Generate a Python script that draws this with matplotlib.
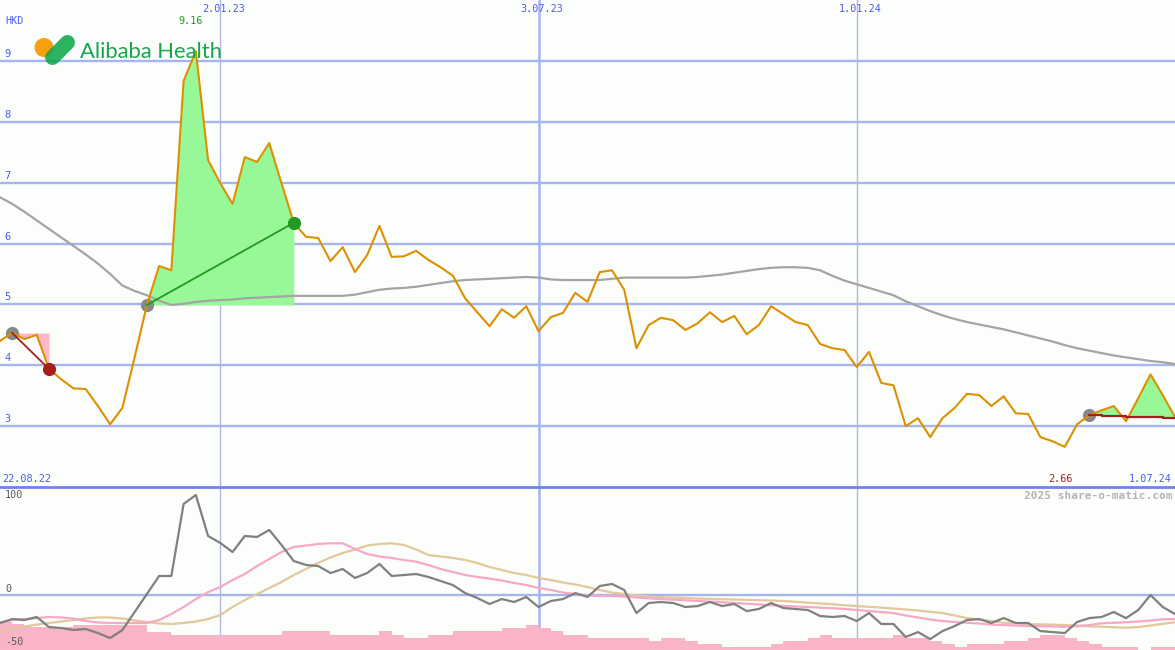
import numpy as np
import pandas as pd
import matplotlib
matplotlib.use('Agg')
import matplotlib.pyplot as plt
from matplotlib.lines import Line2D
from matplotlib.patches import Circle

# ---------------- data (weekly) ----------------
start_date = '2022-08-29'

price = [4.40, 4.53, 4.43, 4.50, 3.94, 3.77, 3.62, 3.61, 3.33, 3.03,
         3.30, 4.13, 4.99, 5.63, 5.56, 8.67, 9.16, 7.37, 6.99, 6.65,
         7.42, 7.34, 7.65, 6.99, 6.34, 6.11, 6.09, 5.71, 5.94, 5.53,
         5.81, 6.29, 5.78, 5.79, 5.88, 5.73, 5.61, 5.47, 5.10, 4.87,
         4.64, 4.92, 4.78, 4.97, 4.56, 4.79, 4.86, 5.19, 5.04, 5.53,
         5.56, 5.24, 4.28, 4.66, 4.78, 4.74, 4.58, 4.69, 4.87, 4.71,
         4.81, 4.51, 4.66, 4.97, 4.84, 4.71, 4.66, 4.35, 4.28, 4.25,
         3.97, 4.22, 3.71, 3.67, 3.00, 3.13, 2.82, 3.13, 3.30, 3.53,
         3.51, 3.33, 3.49, 3.21, 3.20, 2.82, 2.75, 2.66, 3.03, 3.18,
         3.26, 3.33, 3.08, 3.46, 3.85, 3.51, 3.15]

price_ma = [6.76, 6.65, 6.52, 6.38, 6.24, 6.10, 5.96, 5.82, 5.67, 5.50,
            5.31, 5.22, 5.15, 5.06, 4.99, 5.01, 5.04, 5.06, 5.07, 5.08,
            5.10, 5.11, 5.12, 5.13, 5.14, 5.14, 5.14, 5.14, 5.14, 5.16,
            5.20, 5.24, 5.26, 5.27, 5.29, 5.32, 5.35, 5.38, 5.40, 5.41,
            5.42, 5.43, 5.44, 5.45, 5.44, 5.41, 5.40, 5.40, 5.40, 5.40,
            5.42, 5.44, 5.44, 5.44, 5.44, 5.44, 5.44, 5.45, 5.47, 5.49,
            5.52, 5.55, 5.58, 5.60, 5.61, 5.61, 5.60, 5.56, 5.47, 5.39,
            5.33, 5.27, 5.21, 5.15, 5.05, 4.97, 4.89, 4.82, 4.76, 4.71,
            4.67, 4.63, 4.59, 4.54, 4.49, 4.44, 4.39, 4.33, 4.28, 4.24,
            4.20, 4.16, 4.13, 4.10, 4.07, 4.05, 4.02]

# trades: (entry week, exit week)
trades = [(1, 4), (12, 24)]
open_entry = 89
trail = [3.18, 3.16, 3.16, 3.15, 3.15, 3.15, 3.13, 3.13]  # weeks 89..96

momentum = [-28.9, -24.9, -25.9, -22.8, -33.0, -34.0, -36.0, -35.0, -39.1, -44.2,
            -36.0, -17.8, 0.5, 18.8, 18.8, 91.9, 101.0, 59.4, 52.3, 43.1,
            59.4, 58.4, 65.5, 50.3, 34.0, 30.0, 28.9, 21.8, 25.9, 16.8,
            21.8, 31.0, 18.8, 19.8, 20.8, 17.8, 13.7, 9.6, 1.5, -3.6,
            -9.6, -4.6, -7.6, -2.5, -12.7, -6.6, -4.6, 1.5, -2.5, 8.6,
            10.7, 4.6, -18.8, -8.6, -7.6, -8.6, -12.7, -11.7, -7.6, -11.7,
            -9.6, -16.8, -14.7, -8.6, -13.7, -14.7, -15.7, -21.8, -22.8, -21.8,
            -26.9, -18.8, -29.9, -29.9, -43.1, -38.1, -45.2, -37.1, -32.0, -25.9,
            -24.9, -28.9, -23.9, -28.9, -28.9, -37.1, -38.1, -39.1, -27.9, -23.9,
            -22.8, -17.8, -23.9, -15.7, -0.5, -12.7, -19.8]

mom_fast = [-28.9, -25.9, -24.9, -23.9, -22.8, -23.3, -24.4, -26.9, -28.4, -28.9,
            -28.9, -28.9, -28.9, -25.9, -19.8, -12.7, -4.6, 2.5, 7.6, 14.7,
            20.8, 28.9, 36.0, 43.1, 48.2, 49.7, 51.3, 52.0, 52.0, 46.2,
            41.1, 38.6, 37.1, 35.0, 33.3, 29.9, 25.9, 22.8, 19.8, 17.8,
            16.2, 14.2, 11.7, 9.6, 6.6, 4.6, 2.0, 0.5, -1.0, -1.5,
            -1.5, -2.2, -3.0, -3.9, -4.6, -5.2, -5.9, -6.6, -7.2, -7.8,
            -8.6, -9.3, -10.1, -10.9, -11.5, -12.2, -12.7, -13.3, -13.9, -14.6,
            -15.7, -16.8, -17.8, -18.8, -21.3, -23.3, -25.4, -26.9, -27.9, -28.6,
            -29.4, -30.5, -31.0, -31.5, -32.0, -32.2, -32.5, -32.7, -32.2, -31.0,
            -29.2, -28.7, -28.2, -27.4, -26.4, -25.1, -24.9]

mom_slow = [-37.8, -35.0, -32.5, -30.5, -28.9, -27.4, -25.9, -24.2, -23.3, -23.3,
            -24.4, -26.4, -27.9, -29.4, -29.9, -28.9, -27.4, -24.9, -20.8, -12.7,
            -5.6, 0.5, 6.6, 12.7, 19.8, 25.9, 32.0, 37.6, 42.1, 45.7,
            49.7, 51.3, 52.0, 50.3, 45.7, 40.1, 38.6, 37.1, 35.0, 32.0,
            27.9, 24.9, 21.8, 19.8, 16.8, 14.7, 12.2, 10.2, 7.6, 4.6,
            2.0, 0.5, -1.0, -2.2, -2.7, -3.1, -3.6, -4.1, -4.4, -4.8,
            -5.1, -5.4, -5.8, -6.1, -6.6, -7.4, -8.3, -9.1, -9.9, -10.9,
            -11.7, -12.5, -13.3, -14.2, -15.2, -16.2, -17.6, -18.8, -21.3, -23.9,
            -25.4, -26.9, -28.6, -29.2, -29.9, -30.3, -30.6, -31.0, -31.5, -32.2,
            -32.7, -33.2, -33.7, -33.0, -31.5, -29.7, -28.2]

hist = [-28.0, -30.0, -33.0, -33.0, -33.0, -33.0, -31.0, -31.0, -31.0, -31.0,
        -31.0, -31.0, -38.0, -38.0, -41.1, -41.1, -41.1, -41.1, -41.1, -41.1,
        -41.1, -41.1, -41.1, -37.0, -37.0, -37.0, -37.0, -41.1, -41.1, -41.1,
        -41.1, -37.0, -41.1, -43.9, -43.9, -41.1, -41.1, -37.0, -37.0, -37.0,
        -37.0, -33.7, -33.7, -31.0, -33.7, -37.0, -41.1, -41.1, -43.9, -43.9,
        -43.9, -43.9, -43.9, -46.9, -43.9, -43.9, -46.9, -50.3, -50.3, -53.0,
        -53.0, -53.0, -53.0, -50.3, -46.9, -46.9, -43.9, -41.1, -43.9, -43.9,
        -43.9, -43.9, -43.9, -41.1, -43.9, -43.9, -47.2, -50.3, -53.6, -50.3,
        -50.3, -50.3, -47.2, -47.2, -43.9, -41.1, -41.1, -43.9, -47.2, -50.3,
        -53.6, -53.6, -53.6, -56.3, -53.6, -53.6]

price_ticks = [3, 4, 5, 6, 7, 8, 9]
osc_ticks = [100, 0, -50]
date_lines = ['2023-01-02', '2023-07-03', '2024-01-01']
date_labels = ['2.01.23', '3.07.23', '1.01.24']
left_label = '22.08.22'
right_label = '1.07.24'

# ---------------- styling ----------------
W, H = 1175, 650
BG = '#fcfefc'
GRID = '#a6b4f0'
BLUE_TXT = '#4a5cf0'
ORANGE = '#dd9000'
MA_GRAY = '#a4a4a4'
GREEN_FILL = '#98f898'
PINK_FILL = '#ffb6c6'
DARK_RED = '#a81c1c'
GREEN_LINE = '#229922'
MONO = 'DejaVu Sans Mono'

dates = pd.date_range(start_date, periods=len(price), freq='7D')
price = np.array(price)

fig = plt.figure(figsize=(W / 100, H / 100), dpi=100, facecolor=BG)
split = 163 / H
ax = fig.add_axes([0, split, 1, 1 - split])
ax2 = fig.add_axes([0, 0, 1, split])
for a in (ax, ax2):
    a.set_facecolor(BG)
    a.set_axis_off()
    a.set_xlim(dates[0], dates[-1])

ax.set_ylim(2.0, 10.0)
ax2.set_ylim(-56.3, 109.1)

def px(x, y):
    return x / W, 1 - y / H

# grid lines
for v in price_ticks:
    ax.axhline(v, color=GRID, lw=1.7, zorder=1)
ax2.axhline(0, color=GRID, lw=1.7, zorder=1)
for d, lab in zip(date_lines, date_labels):
    t = pd.Timestamp(d)
    mid = lab.startswith('3.07')
    for a in (ax, ax2):
        a.axvline(t, color=GRID if mid else '#b0b6e2', lw=1.8 if mid else 1.0, zorder=1)
fig.add_artist(Line2D([0, 1], [split, split], transform=fig.transFigure,
                      color='#7282ea', lw=2.0, zorder=5))

# ---------------- price panel ----------------
ax.plot(dates, price_ma, color=MA_GRAY, lw=1.6, zorder=3)

for (i0, i1) in trades:
    base = price[i0]
    seg_d = dates[i0:i1 + 1]
    seg_p = price[i0:i1 + 1]
    ax.fill_between(seg_d, seg_p, base, where=seg_p >= base, interpolate=True,
                    color=GREEN_FILL, lw=0, zorder=2)
    ax.fill_between(seg_d, seg_p, base, where=seg_p <= base, interpolate=True,
                    color=PINK_FILL, lw=0, zorder=2)
    win = price[i1] > price[i0]
    ax.plot([dates[i0], dates[i1]], [price[i0], price[i1]],
            color=GREEN_LINE if win else DARK_RED, lw=1.3, zorder=5)
    ax.plot(dates[i0], price[i0], 'o', ms=9.5, color='#888888', mec='none', zorder=3.5)
    ax.plot(dates[i1], price[i1], 'o', ms=9.5, color=GREEN_LINE if win else DARK_RED,
            mec='none', zorder=6)

seg_d = dates[open_entry:]
seg_p = price[open_entry:]
tr = np.array(trail)
ax.fill_between(seg_d, seg_p, tr, where=seg_p >= tr, interpolate=True,
                color=GREEN_FILL, lw=0, zorder=2)
ax.fill_between(seg_d, seg_p, tr, where=seg_p <= tr, interpolate=True,
                color=PINK_FILL, lw=0, zorder=2)
ax.plot(seg_d, tr, color=DARK_RED, lw=1.6, drawstyle='steps-post', zorder=5)
ax.plot(dates[open_entry], price[open_entry], 'o', ms=9.5, color='#888888',
        mec='none', zorder=3.5)

ax.plot(dates, price, color=ORANGE, lw=1.5, zorder=4)

# price labels
for v in price_ticks:
    ax.annotate(str(v), xy=(0, v), xycoords=('axes fraction', 'data'),
                xytext=(4, 7), textcoords='offset pixels', ha='left', va='center',
                fontsize=7.5, family=MONO, color=BLUE_TXT)
fig.text(*px(5, 21), 'HKD', ha='left', va='center', fontsize=7.3, family=MONO, color=BLUE_TXT)
for d, lab in zip(date_lines, date_labels):
    ax.annotate(lab, xy=(pd.Timestamp(d), 1), xycoords=('data', 'axes fraction'),
                xytext=(3, -9), textcoords='offset pixels', ha='center', va='center',
                fontsize=7.3, family=MONO, color=BLUE_TXT)
fig.text(*px(2, 479), left_label, ha='left', va='center', fontsize=7.3,
         family=MONO, color=BLUE_TXT)
fig.text(*px(1172, 479), right_label, ha='right', va='center', fontsize=7.3,
         family=MONO, color=BLUE_TXT)

imax = int(np.argmax(price))
imin = int(np.argmin(price))
ax.annotate(f'{price[imax]:.2f}', xy=(dates[imax], 1), xycoords=('data', 'axes fraction'),
            xytext=(-5, -21), textcoords='offset pixels', ha='center', va='center',
            fontsize=7.3, family=MONO, color=GREEN_LINE)
ax.annotate(f'{price[imin]:.2f}', xy=(dates[imin], 0), xycoords=('data', 'axes fraction'),
            xytext=(-4, 8), textcoords='offset pixels', ha='center', va='center',
            fontsize=7.3, family=MONO, color=DARK_RED)

fig.text(*px(1172, 496), '2025 share-o-matic.com', ha='right', va='center',
         fontsize=8.0, family=MONO, color='#b4b4b4', fontweight='bold')

# logo
ax_logo = fig.add_axes([0, 0, 1, 1], facecolor='none')
ax_logo.set_xlim(0, W)
ax_logo.set_ylim(H, 0)
ax_logo.set_axis_off()
ax_logo.add_patch(Circle((44, 47.5), 9.5, color='#f5a00e', lw=0, zorder=10))
ax_logo.plot([52.5, 67.5], [57.5, 42.5], color='#0fa84c', lw=10.8,
             solid_capstyle='round', alpha=0.88, zorder=11)
ax_logo.text(80, 57.5, 'Alibaba Health', ha='left', va='baseline', fontsize=15.8,
             family='Lato', color='#16a64e', zorder=12)

# ---------------- oscillator panel ----------------
y_lo = ax2.get_ylim()[0]
ax2.bar(dates[:len(hist)], [h - y_lo for h in hist], bottom=y_lo, width=7,
        align='edge', color='#f9b4c8', lw=0, zorder=2)
ax2.plot(dates, mom_slow, color='#e2c89a', lw=1.6, zorder=3)
ax2.plot(dates, mom_fast, color='#f8a8c6', lw=1.6, zorder=3)
ax2.plot(dates, momentum, color='#808080', lw=1.6, zorder=4)

osc_pos = {100: 495.5, 0: 589, -50: 642}
for v in osc_ticks:
    fig.text(*px(5, osc_pos[v]), str(v), ha='left', va='center', fontsize=7.3,
             family=MONO, color='#5a5a5a')

fig.savefig('out.png', dpi=100, facecolor=BG)
